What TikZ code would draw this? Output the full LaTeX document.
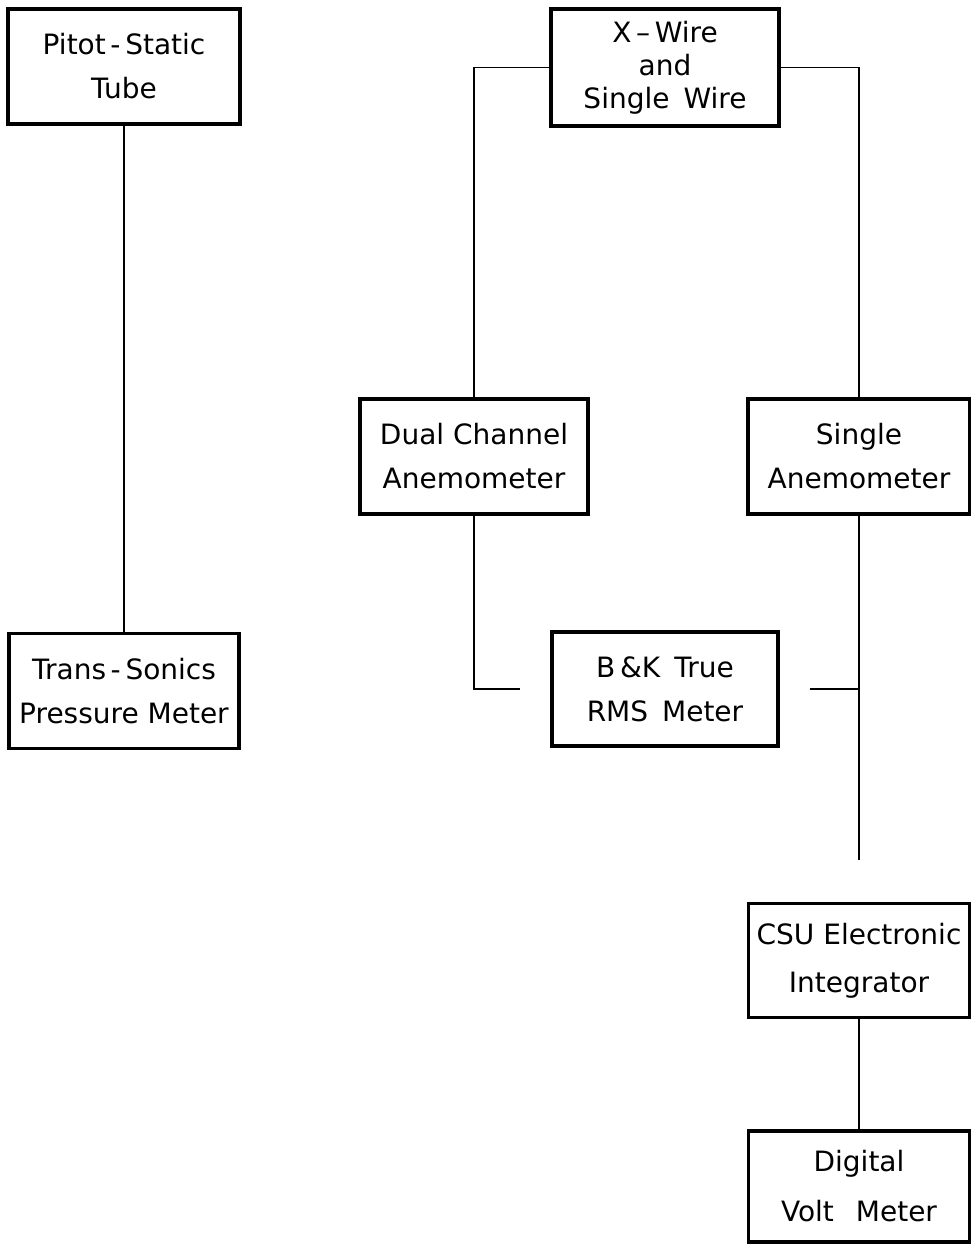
\documentclass[tikz,border=0pt]{standalone}
\usepackage{fontspec}
\setmainfont{DejaVu Sans}
\usepackage{tikz}
\usetikzlibrary{positioning}

\begin{document}
\begin{tikzpicture}[
    x=1pt, y=-1pt,
    unit/.style={draw, rectangle, line width=3.4pt,
        minimum width=228pt, minimum height=115pt,
        inner sep=0pt, align=center,
        font=\fontsize{28}{44}\selectfont},
    link/.style={line width=1.6pt}
]
\useasboundingbox (0,0) rectangle (971,1248);

% pressure side
\node[unit, minimum width=232pt] (pitot) at (124,66.5) {Pitot\,-\,Static\\Tube};
\node[unit, minimum width=230pt, below=506pt of pitot] (trans) {Trans\,-\,Sonics\\Pressure Meter};

% hot wire side
\node[unit, minimum height=117pt, font=\fontsize{28}{33}\selectfont] (xwire) at (665,67.5)
    {X\,--\,Wire\\and\\Single\hspace{14pt}Wire};
\node[unit] (dual) at (474,456.5) {Dual Channel\\Anemometer};
\node[unit, minimum width=222pt] (single) at (859,456.5) {Single\\Anemometer};
\node[unit, minimum width=226pt, minimum height=114pt] (bk) at (665,689)
    {B\,\&K\hspace{14pt}True\\RMS\hspace{14pt}Meter};
\node[unit, minimum width=221pt, minimum height=114pt, font=\fontsize{28}{48}\selectfont,
    below=386pt of single] (csu) {CSU Electronic\\Integrator};
\node[unit, minimum width=221pt, minimum height=111pt, font=\fontsize{28}{50}\selectfont,
    below=110pt of csu] (dvm) {Digital\\Volt\hspace{22pt}Meter};

\coordinate[left=30pt of bk.west] (bkin);
\coordinate[right=30pt of bk.east] (bkout);
\coordinate[below=344pt of single.south] (tap);

\draw[link] (pitot) -- (trans);
\draw[link] (xwire.west) -| (dual.north);
\draw[link] (xwire.east) -| (single.north);
\draw[link] (dual.south) |- (bkin);
\draw[link] (bkout) -- (bkout -| single.south);
\draw[link] (single.south) -- (tap);
\draw[link] (csu) -- (dvm);

\end{tikzpicture}
\end{document}
